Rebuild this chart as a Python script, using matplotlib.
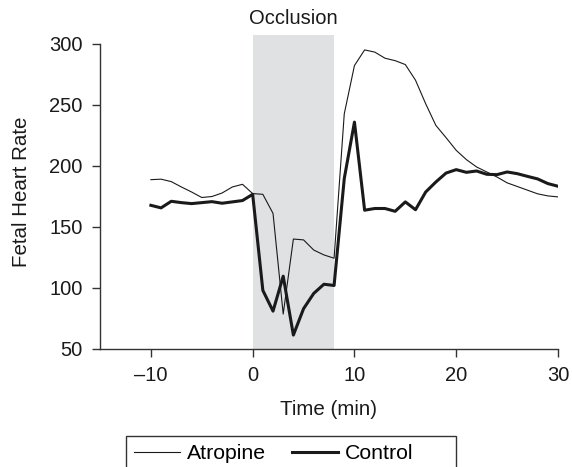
import matplotlib.pyplot as plt
from matplotlib.patches import Rectangle
import numpy as np

plt.rcParams['font.family'] = ['Liberation Sans', 'DejaVu Sans']

minutes = np.arange(-10, 31)
atropine = [188.6, 189, 187, 182.6, 178.5, 174, 174.8, 177.7, 182.6, 184.8,
            177.2, 176.6, 161, 78.6, 140, 139.3, 131, 127, 124.3, 242.5,
            282, 294.8, 293, 288, 286, 282.8, 270, 250.7, 233, 223,
            212.6, 205, 199, 194.9, 190.8, 186, 183, 180, 177, 175.3, 174.5]
control = [167.6, 165.5, 170.9, 169.8, 169, 169.8, 170.6, 169.3, 170.4, 171.5,
           176.6, 98, 81, 109.6, 61.4, 83, 95.5, 103, 102, 189.5,
           235.7, 163.6, 165, 165, 162.7, 170.4, 164, 178.5, 186.7, 194,
           196.8, 194.6, 195.7, 193, 192.7, 194.9, 193.5, 191.3, 189.2, 185.4, 183.2]
occlusion = (0, 8)

fs = 14.8
W, H = 572, 467
fig = plt.figure(figsize=(W / 100, H / 100), dpi=100)
ax = fig.add_axes([100/W, 1 - 349/H, 458/W, 314/H])

ax.axvspan(occlusion[0], occlusion[1], color='#e0e1e3', lw=0, zorder=0)
l1, = ax.plot(minutes, atropine, color='#1a1a1a', lw=0.8, label='Atropine')
l2, = ax.plot(minutes, control, color='#1a1a1a', lw=2.2, label='Control')

ax.set_xlim(-15, 30)
ax.set_ylim(50, 307)
ax.set_xticks([-10, 0, 10, 20, 30])
ax.set_xticklabels(['\u201310', '0', '10', '20', '30'])
ax.set_yticks(np.arange(50, 301, 50))
ax.spines['top'].set_visible(False)
ax.spines['right'].set_visible(False)
ax.spines['left'].set_bounds(50, 300)
for s in ('left', 'bottom'):
    ax.spines[s].set_color('#333333')
    ax.spines[s].set_linewidth(1.0)
ax.tick_params(labelsize=14.5, length=6, width=1.0, color='#333333', labelcolor='#1a1a1a')
ax.tick_params(axis='x', pad=6)
ax.tick_params(axis='y', pad=6.5)

ax.set_xlabel('Time (min)', fontsize=fs, color='#1a1a1a', labelpad=11)
ax.set_ylabel('Fetal Heart Rate', fontsize=fs, color='#1a1a1a', labelpad=13)
ax.text(4, 313, 'Occlusion', ha='center', va='bottom', fontsize=14.5, color='#1a1a1a')

# legend box is wider than its entries and runs off the bottom edge
fig.patches.append(Rectangle((126/W, -0.05), 330/W, 0.05 + 1 - 436/H,
                             transform=fig.transFigure, fill=False,
                             edgecolor='#333333', lw=1.0))
fig.legend(handles=[l1, l2], loc='upper left', bbox_to_anchor=(126/W, 1 - 436/H),
           ncol=2, fontsize=15.3, frameon=False,
           handlelength=2.15, handletextpad=0.32, columnspacing=1.25, borderpad=0.38,
           borderaxespad=0)

fig.savefig('out.png', dpi=100)
